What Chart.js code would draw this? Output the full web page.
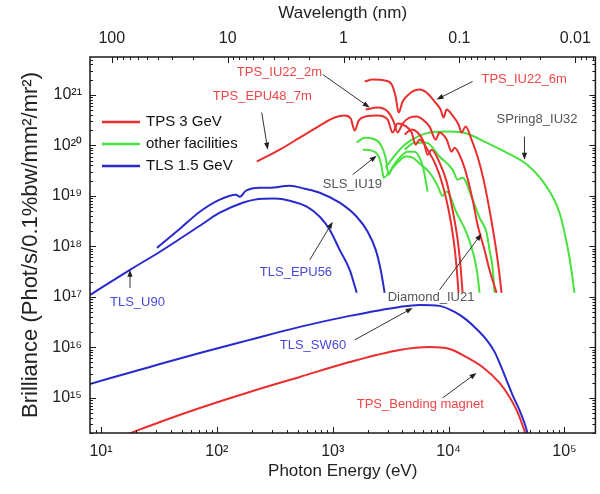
<!DOCTYPE html>
<html lang="en">
<head>
<meta charset="UTF-8">
<title>Brilliance - TPS / TLS</title>
<script src="https://cdn.jsdelivr.net/npm/chart.js@4.4.1/dist/chart.umd.min.js"></script>
<style>
    html, body { margin: 0; padding: 0; background: #fff; }
    #wrap { width: 600px; height: 494px; }
</style>
</head>
<body>
<div id="wrap"><canvas id="myChart" width="600" height="494"></canvas></div>
<script>
// tick labels
var energyTicks = [10, 100, 1000, 10000, 100000];
var wavelengthTicks = [100, 10, 1, 0.1, 0.01];
var brillianceTicks = [1e15, 1e16, 1e17, 1e18, 1e19, 1e20, 1e21];
var legendLabels = ['TPS 3 GeV', 'other facilities', 'TLS 1.5 GeV'];

// photon energy (eV) / brilliance for each curve
var tpsIu22_6mE = [1888, 2213, 2806, 3228, 3491, 3707, 4009, 4613, 5623, 6592, 7568, 8531, 9057, 9616, 10820, 12190, 12940, 14030, 15780, 17780, 20040, 22540, 24950, 26980, 28640];
var tpsIu22_6mB = [1.84e21, 2.01e21, 1.92e21, 1.60e21, 9.25e20, 4.46e20, 7.36e20, 1.06e21, 1.27e21, 1.06e21, 7.36e20, 5.11e20, 3.55e20, 5.11e20, 3.88e20, 2.58e20, 1.79e20, 2.35e20, 1.30e20, 6.0e19, 2.09e19, 5.3e18, 1.35e18, 3.92e17, 1.2e17];

var tpsIu22_2mE = [1923, 2443, 2979, 3357, 3631, 4009, 4613, 5297, 5970, 6855, 7727, 8356, 9616, 10620, 11270, 12940, 14290, 16110, 17780, 20420, 22540, 25940];
var tpsIu22_2mB = [5.11e20, 5.60e20, 4.67e20, 2.95e20, 1.79e20, 2.70e20, 3.55e20, 3.72e20, 3.24e20, 2.35e20, 1.30e20, 1.79e20, 1.30e20, 7.5e19, 9.0e19, 5.2e19, 2.62e19, 8.4e18, 2.67e18, 8.5e17, 3.42e17, 1.2e17];

var tpsEpu48E = [221, 349, 520, 773, 1040, 1268, 1429, 1549, 1675, 1923, 2443, 2979, 3289, 3631, 4178, 4797, 5200, 5623, 6592, 7727, 8872, 10000, 11040, 11720, 12190];
var tpsEpu48B = [4.75e19, 8.2e19, 1.42e20, 2.46e20, 3.55e20, 3.88e20, 3.39e20, 1.96e20, 3.09e20, 3.72e20, 3.88e20, 3.24e20, 1.79e20, 2.70e20, 2.46e20, 1.79e20, 1.03e20, 1.30e20, 8.2e19, 4.14e19, 1.66e19, 5.3e18, 1.35e18, 3.92e17, 1.2e17];

var tpsEpu48bE = [4178, 4797, 5408, 6081, 6592, 7129, 8356, 9616, 10820, 11970, 12690, 13210];
var tpsEpu48bB = [1.63e20, 2.05e20, 1.79e20, 1.19e20, 6.5e19, 8.2e19, 4.54e19, 1.91e19, 5.3e18, 1.35e18, 3.92e17, 1.2e17];

var tpsBmE = [17.5, 32.3, 71.3, 192, 520, 1402, 3784, 6855, 10210, 13740, 19630, 27540, 33570, 39360, 43450, 47000];
var tpsBmB = [1.95e14, 3.30e14, 6.25e14, 1.30e15, 2.58e15, 5.1e15, 8.85e15, 1.01e16, 9.25e15, 6.7e15, 4.07e15, 1.96e15, 1.03e15, 5.2e14, 2.87e14, 1.7e14];

var slsAE = [1611, 1888, 2213, 2594, 2864, 3040, 3289, 3784, 4436, 5093, 5623, 6081, 6592];
var slsAB = [1.13e20, 1.42e20, 1.36e20, 1.03e20, 5.7e19, 2.62e19, 3.78e19, 5.7e19, 7.5e19, 7.5e19, 5.7e19, 3.30e19, 1.21e19];

var slsBE = [1815, 2168, 2495, 2643, 2754, 3097, 3631, 4259, 4898, 5623, 6855, 8035, 8872, 9616, 11720, 14290, 16440, 17780, 18490];
var slsBB = [8.2e19, 7.85e19, 6.0e19, 3.78e19, 2.29e19, 3.01e19, 4.54e19, 6.0e19, 5.7e19, 4.34e19, 2.87e19, 1.59e19, 1.00e19, 1.21e19, 4.62e18, 1.85e18, 6.8e17, 2.72e17, 1.2e17];

var diamondE = [4178, 5093, 6457, 8356, 10820, 11970, 13210, 16110, 18490, 21280, 22540, 23930, 24950];
var diamondB = [8.2e19, 1.13e20, 1.13e20, 6.0e19, 3.30e19, 2.09e19, 2.29e19, 8.4e18, 3.68e18, 1.85e18, 8.5e17, 3.92e17, 1.2e17];

var spring8E = [2864, 3420, 4178, 5408, 6855, 10210, 14290, 21280, 31620, 49890, 69980, 90570, 106200, 114800, 121900];
var spring8B = [3.61e19, 6.25e19, 1.03e20, 1.49e20, 1.79e20, 1.87e20, 1.71e20, 1.13e20, 7.2e19, 3.78e19, 1.52e19, 4.62e18, 9.8e17, 3.42e17, 1.2e17];

var tlsU90E = [8.0, 17.8, 32.3, 71.3, 106, 167, 213, 316, 426, 597, 773, 942, 1148, 1402, 1611];
var tlsU90B = [1.08e17, 3.42e17, 7.8e17, 2.55e18, 4.62e18, 7.3e18, 8.4e18, 8.8e18, 8.0e18, 6.08e18, 3.85e18, 2.13e18, 8.5e17, 3.42e17, 1.2e17];

var tlsEpu56E = [30.4, 48.0, 71.3, 106, 146, 158, 178, 235, 286, 426, 574, 773, 1148, 1611, 2003, 2350, 2594, 2806];
var tlsEpu56B = [9.3e17, 2.22e18, 4.84e18, 8.4e18, 1.05e19, 9.6e18, 1.26e19, 1.45e19, 1.45e19, 1.59e19, 1.38e19, 1.15e19, 7.3e18, 3.85e18, 1.94e18, 8.5e17, 3.42e17, 1.2e17];

var tlsSw60E = [8.0, 26.4, 71.3, 192, 520, 1402, 3784, 5623, 8356, 11270, 14290, 17780, 21280, 24950, 27540, 31620, 35650, 40930, 45190, 49000];
var tlsSw60B = [1.87e15, 4.07e15, 7.7e15, 1.40e16, 2.53e16, 4.18e16, 6.3e16, 6.9e16, 6.6e16, 5.0e16, 3.48e16, 2.20e16, 1.40e16, 8.1e15, 4.89e15, 2.24e15, 1.13e15, 5.7e14, 3.15e14, 1.7e14];

// labels with arrows: text anchor, arrow start, arrow end (eV, brilliance)
var notes = [
    { text: 'TPS_IU22_2m', c: 'red', at: [148.6, 2.77e21], from: [820, 2.53e21], to: [2084, 5.6e20] },
    { text: 'TPS_EPU48_7m', c: 'red', at: [92.4, 9.25e20], from: [244, 4.46e20], to: [275, 8.2e19] },
    { text: 'TPS_IU22_6m', c: 'red', at: [19230, 2.01e21], from: [16110, 1.84e21], to: [7880, 8.07e20] },
    { text: 'SPring8_IU32', c: 'gray', at: [25940, 3.24e20], from: [45190, 1.49e20], to: [45190, 5.2e19] },
    { text: 'SLS_IU19', c: 'gray', at: [820, 1.66e19], from: [1486, 2.62e19], to: [2395, 6.25e19] },
    { text: 'TLS_U90', c: 'blue', at: [11.96, 7.9e16], from: [17.8, 1.5e17], to: [17.8, 3.42e17] },
    { text: 'TLS_EPU56', c: 'blue', at: [235, 2.98e17], from: [634, 5.4e17], to: [1000, 3.06e18] },
    { text: 'Diamond_IU21', c: 'gray', at: [2979, 9.5e16], from: [8356, 1.37e17], to: [19230, 1.77e18] },
    { text: 'TLS_SW60', c: 'blue', at: [349, 1.11e16], from: [1549, 1.4e16], to: [4898, 6.0e16] },
    { text: 'TPS_Bending magnet', c: 'red', at: [1611, 7.2e14], from: [8872, 9.9e14], to: [17420, 3.09e15] }
];

var RED = 'rgb(234, 46, 46)', GREEN = 'rgb(72, 226, 62)', BLUE = 'rgb(42, 42, 204)';
var noteColors = { red: 'rgb(238, 70, 70)', blue: 'rgb(72, 72, 214)', gray: 'rgb(85, 85, 85)' };
var FONT = "'Liberation Sans', Arial, sans-serif";
var sup = { '0': '\u2070', '1': '\u00b9', '2': '\u00b2', '3': '\u00b3', '4': '\u2074', '5': '\u2075', '6': '\u2076', '7': '\u2077', '8': '\u2078', '9': '\u2079' };

function pow10Label(v) {
    var e = String(Math.round(Math.log10(v)));
    return '10' + e.split('').map(function (ch) { return sup[ch]; }).join('');
}

function curve(e, b, color) {
    return {
        data: e.map(function (v, i) { return { x: v, y: b[i] }; }),
        borderColor: color,
        borderWidth: 2,
        pointRadius: 0,
        fill: false,
        cubicInterpolationMode: 'monotone'
    };
}

// inward ticks on all four sides and the frame
var frame = {
    id: 'frame',
    afterDatasetsDraw: function (chart) {
        var ctx = chart.ctx, a = chart.chartArea;
        var x = chart.scales.x, x2 = chart.scales.x2, y = chart.scales.y;
        var k, m, v, p, len;
        ctx.save();
        ctx.strokeStyle = '#1a1a1a';
        ctx.lineWidth = 1;
        ctx.beginPath();
        for (k = 0; k <= 5; k++) {
            for (m = 1; m <= 9; m++) {
                v = m * Math.pow(10, k);
                if (v < x.min || v > x.max) continue;
                p = Math.round(x.getPixelForValue(v)) + 0.5;
                len = m === 1 ? 6 : 3;
                ctx.moveTo(p, a.bottom); ctx.lineTo(p, a.bottom - len);
            }
        }
        for (k = -3; k <= 2; k++) {
            for (m = 1; m <= 9; m++) {
                v = m * Math.pow(10, k);
                if (v < x2.min || v > x2.max) continue;
                p = Math.round(x2.getPixelForValue(v)) + 0.5;
                len = m === 1 ? 6 : 3;
                ctx.moveTo(p, a.top); ctx.lineTo(p, a.top + len);
            }
        }
        for (k = 14; k <= 21; k++) {
            for (m = 1; m <= 9; m++) {
                v = m * Math.pow(10, k);
                if (v < y.min || v > y.max) continue;
                p = Math.round(y.getPixelForValue(v)) + 0.5;
                len = m === 1 ? 6 : 3;
                ctx.moveTo(a.left, p); ctx.lineTo(a.left + len, p);
                ctx.moveTo(a.right, p); ctx.lineTo(a.right - len, p);
            }
        }
        ctx.stroke();
        ctx.lineWidth = 1.5;
        ctx.strokeRect(a.left, a.top, a.right - a.left, a.bottom - a.top);
        ctx.restore();
    }
};

// labels and arrows
var labels = {
    id: 'labels',
    afterDatasetsDraw: function (chart) {
        var ctx = chart.ctx, x = chart.scales.x, y = chart.scales.y;
        ctx.save();
        ctx.font = '13px ' + FONT;
        ctx.textBaseline = 'middle';
        ctx.textAlign = 'left';
        notes.forEach(function (n) {
            ctx.fillStyle = noteColors[n.c];
            ctx.fillText(n.text, x.getPixelForValue(n.at[0]), y.getPixelForValue(n.at[1]));
            var x0 = x.getPixelForValue(n.from[0]), y0 = y.getPixelForValue(n.from[1]);
            var x1 = x.getPixelForValue(n.to[0]), y1 = y.getPixelForValue(n.to[1]);
            var ang = Math.atan2(y1 - y0, x1 - x0);
            ctx.strokeStyle = '#333';
            ctx.fillStyle = '#222';
            ctx.lineWidth = 1;
            ctx.beginPath();
            ctx.moveTo(x0, y0);
            ctx.lineTo(x1 - 4 * Math.cos(ang), y1 - 4 * Math.sin(ang));
            ctx.stroke();
            ctx.beginPath();
            ctx.moveTo(x1, y1);
            ctx.lineTo(x1 - 7 * Math.cos(ang) + 2.6 * Math.sin(ang), y1 - 7 * Math.sin(ang) - 2.6 * Math.cos(ang));
            ctx.lineTo(x1 - 7 * Math.cos(ang) - 2.6 * Math.sin(ang), y1 - 7 * Math.sin(ang) + 2.6 * Math.cos(ang));
            ctx.closePath();
            ctx.fill();
        });
        ctx.restore();
    }
};

// legend inside the plot
var legendBox = {
    id: 'legendBox',
    afterDraw: function (chart) {
        var ctx = chart.ctx, a = chart.chartArea;
        var cols = [RED, GREEN, BLUE];
        ctx.save();
        ctx.font = '15px ' + FONT;
        ctx.textBaseline = 'middle';
        ctx.fillStyle = '#111';
        legendLabels.forEach(function (t, i) {
            var yy = a.top + 65 + i * 22;
            ctx.strokeStyle = cols[i];
            ctx.lineWidth = 2.5;
            ctx.beginPath();
            ctx.moveTo(a.left + 12, yy); ctx.lineTo(a.left + 50, yy);
            ctx.stroke();
            ctx.fillText(t, a.left + 56, yy);
        });
        ctx.restore();
    }
};

var ctx = document.getElementById('myChart').getContext('2d');
var chart = new Chart(ctx, {
    type: 'line',
    data: {
        datasets: [
            curve(tpsIu22_6mE, tpsIu22_6mB, RED),
            curve(tpsIu22_2mE, tpsIu22_2mB, RED),
            curve(tpsEpu48E, tpsEpu48B, RED),
            curve(tpsEpu48bE, tpsEpu48bB, RED),
            curve(tpsBmE, tpsBmB, RED),
            curve(slsAE, slsAB, GREEN),
            curve(slsBE, slsBB, GREEN),
            curve(diamondE, diamondB, GREEN),
            curve(spring8E, spring8B, GREEN),
            curve(tlsU90E, tlsU90B, BLUE),
            curve(tlsEpu56E, tlsEpu56B, BLUE),
            curve(tlsSw60E, tlsSw60B, BLUE)
        ]
    },
    options: {
        responsive: false,
        animation: false,
        devicePixelRatio: 1,
        layout: { padding: { right: 4 } },
        plugins: { legend: { display: false }, tooltip: { enabled: false } },
        scales: {
            x: {
                type: 'logarithmic',
                position: 'bottom',
                min: 8.04,
                max: 185000,
                grid: { display: false, drawTicks: false },
                border: { display: false },
                afterBuildTicks: function (s) { s.ticks = energyTicks.map(function (v) { return { value: v }; }); },
                afterFit: function (s) { s.height = 61; },
                ticks: {
                    autoSkip: false, maxRotation: 0, padding: 9, color: '#222',
                    font: { family: FONT, size: 16 },
                    callback: function (v) { return pow10Label(v); }
                },
                title: {
                    display: true, text: 'Photon Energy (eV)', color: '#222',
                    font: { family: FONT, size: 17 }, padding: { top: 0, bottom: 12 }
                }
            },
            x2: {
                type: 'logarithmic',
                position: 'top',
                reverse: true,
                min: 1239.84 / 185000,
                max: 1239.84 / 8.04,
                grid: { display: false, drawTicks: false },
                border: { display: false },
                afterBuildTicks: function (s) { s.ticks = wavelengthTicks.map(function (v) { return { value: v }; }); },
                afterFit: function (s) { s.height = 57; },
                ticks: {
                    autoSkip: false, maxRotation: 0, padding: 9, color: '#222',
                    font: { family: FONT, size: 16 },
                    callback: function (v) { return String(v); }
                },
                title: {
                    display: true, text: 'Wavelength (nm)', color: '#222',
                    font: { family: FONT, size: 17 }, padding: { top: 3, bottom: 0 }
                }
            },
            y: {
                type: 'logarithmic',
                position: 'left',
                min: 2.0e14,
                max: 5.62e21,
                grid: { display: false, drawTicks: false },
                border: { display: false },
                afterBuildTicks: function (s) { s.ticks = brillianceTicks.map(function (v) { return { value: v }; }); },
                afterFit: function (s) { s.width = 90; },
                ticks: {
                    autoSkip: false, padding: 8, color: '#222',
                    font: { family: FONT, size: 16 },
                    callback: function (v) { return pow10Label(v); }
                },
                title: {
                    display: true, text: 'Brilliance (Phot/s/0.1%bw/mm\u00b2/mr\u00b2)', color: '#222',
                    font: { family: FONT, size: 22 }, padding: { top: 18, bottom: 0 }
                }
            }
        }
    },
    plugins: [frame, labels, legendBox]
});
</script>
</body>
</html>
